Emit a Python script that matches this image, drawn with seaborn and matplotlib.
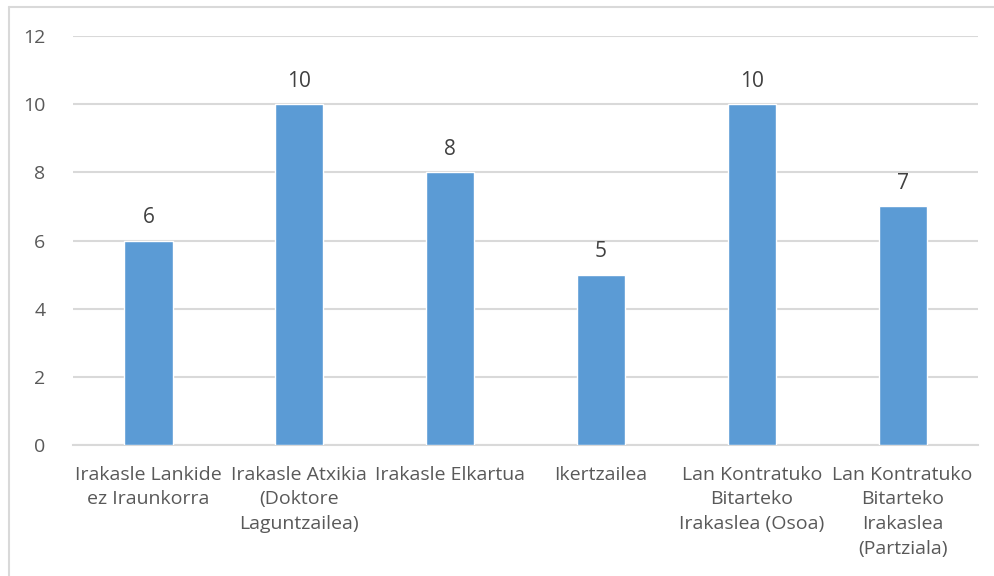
import matplotlib
matplotlib.use("Agg")
import matplotlib.pyplot as plt
import seaborn as sns
import pandas as pd

categories = [
    "Irakasle Lankide\nez Iraunkorra",
    "Irakasle Atxikia\n(Doktore\nLaguntzailea)",
    "Irakasle Elkartua",
    "Ikertzailea",
    "Lan Kontratuko\nBitarteko\nIrakaslea (Osoa)",
    "Lan Kontratuko\nBitarteko\nIrakaslea\n(Partziala)",
]
values = [6, 10, 8, 5, 10, 7]
y_ticks = [0, 2, 4, 6, 8, 10, 12]

sns.set_style("white")
plt.rcParams['font.family'] = ['Open Sans', 'DejaVu Sans']

df = pd.DataFrame({"cat": categories, "val": values})

fig = plt.figure(figsize=(9.95, 5.76), dpi=100)
ax = fig.add_axes([0.0734, 0.2274, 0.9096, 0.7101])

sns.barplot(data=df, x="cat", y="val", color="#5B9BD5", width=0.32,
            saturation=1, ax=ax, zorder=3)

ax.set_ylim(0, 12)
ax.set_yticks(y_ticks)
ax.yaxis.grid(True, color="#D9D9D9", linewidth=1.5, zorder=0)
ax.set_axisbelow(True)
for s in ["top", "right", "left"]:
    ax.spines[s].set_visible(False)
ax.spines["bottom"].set_color("#D9D9D9")
ax.spines["bottom"].set_linewidth(1.5)
ax.tick_params(axis="both", length=0, labelsize=14, labelcolor="#595959")
ax.tick_params(axis="y", pad=20)
ax.tick_params(axis="x", pad=15)
for t in ax.get_xticklabels():
    t.set_linespacing(1.47)
ax.set_xlabel("")
ax.set_ylabel("")

for c in ax.containers:
    ax.bar_label(c, labels=[str(v) for v in values], padding=9,
                 fontsize=15, color="#404040")

# chart frame (top and left edges visible)
fig.add_artist(plt.Line2D([0.009, 0.009], [0, 0.988], color="#D9D9D9",
                          linewidth=1.5, transform=fig.transFigure))
fig.add_artist(plt.Line2D([0.009, 1.0], [0.988, 0.988], color="#D9D9D9",
                          linewidth=1.5, transform=fig.transFigure))

fig.savefig("out.png", dpi=100)
